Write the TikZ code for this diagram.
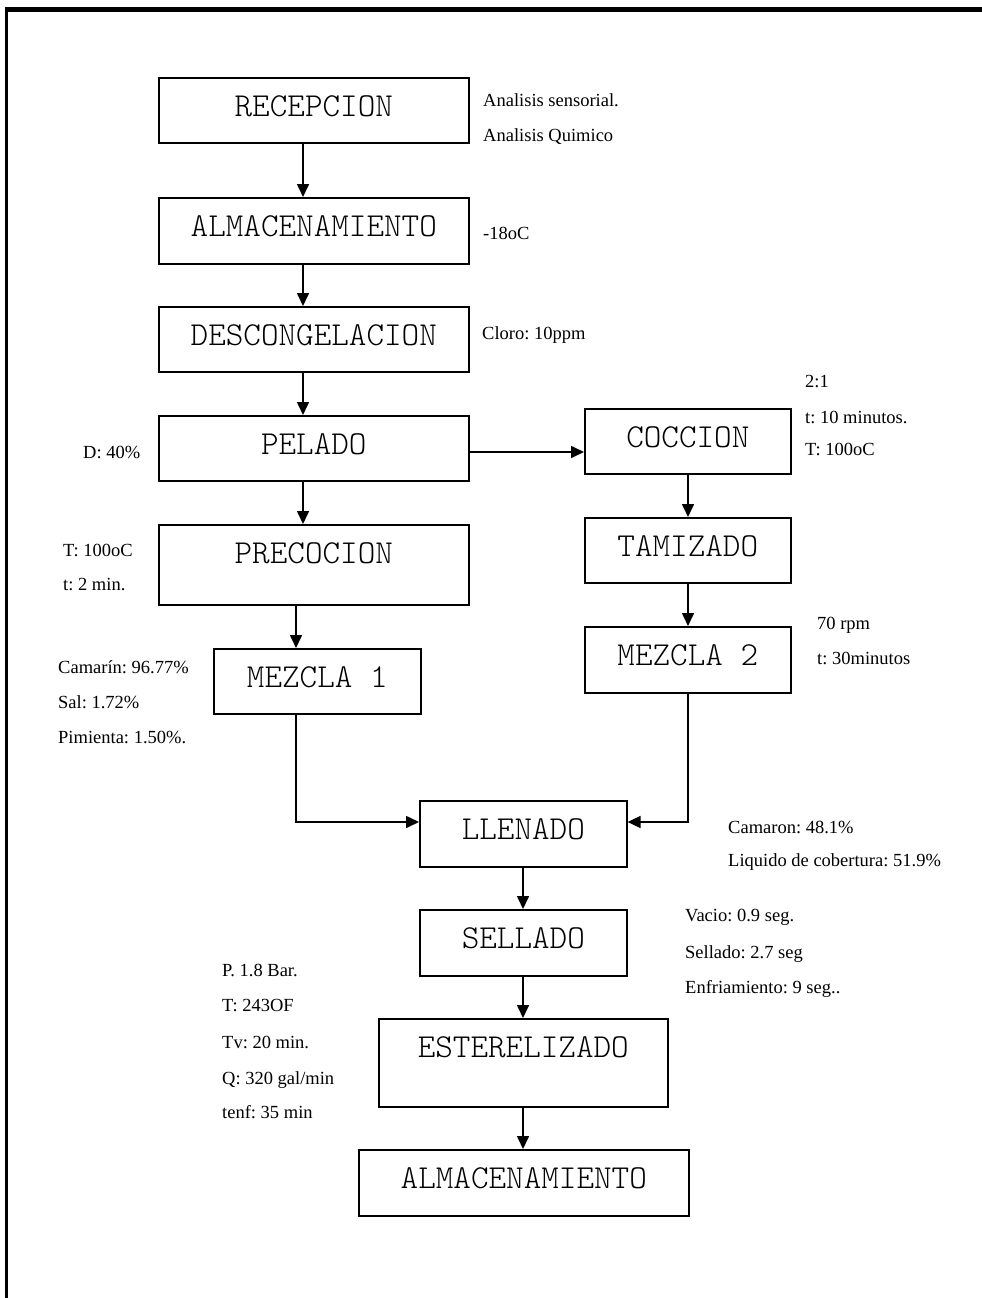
\documentclass[tikz,border=0pt]{standalone}
\usepackage{fontspec}
\setmainfont{Liberation Serif}
\newfontfamily\boxfont{Latin Modern Mono Light}
\usetikzlibrary{arrows.meta}
\frenchspacing
\tikzset{
  procbox/.style={draw, line width=1.6pt, inner sep=0pt, anchor=north west},
  boxlabel/.style={inner sep=0pt, anchor=center, font=\boxfont\fontsize{33.5}{36}\selectfont},
  ann/.style={anchor=base west, inner sep=0pt, font=\fontsize{18.5}{22}\selectfont},
  arr/.style={line width=1.6pt, -{Triangle[width=12pt,length=13pt]}},
  lin/.style={line width=1.6pt}
}
\newcommand\pbox[6]{%
  \node[procbox, minimum width=#4pt-#2pt, minimum height=#5pt-#3pt] (#1) at (#2,#3) {};
  \node[boxlabel] (#1-t) at ([yshift=-29pt]#1.north) {#6};
}
\begin{document}
\begin{tikzpicture}[x=1pt,y=-1pt]
\useasboundingbox (0,0) rectangle (982,1298);
% frame
\fill[black] (5,7) rectangle (982,12);
\fill[black] (5,7) rectangle (8,1298);

% boxes
\pbox{rec}{158}{77}{468}{142}{RECEPCION}
\pbox{alm}{158}{197}{468}{263}{ALMACENAMIENTO}
\pbox{desc}{158}{306}{468}{371}{DESCONGELACION}
\pbox{pel}{158}{415}{468}{480}{PELADO}
\pbox{prec}{158}{524}{468}{604}{PRECOCION}
\pbox{mz1}{213}{648}{420}{713}{MEZCLA 1}
\pbox{coc}{584}{408}{790}{473}{COCCION}
\pbox{tam}{584}{517}{790}{582}{TAMIZADO}
\pbox{mz2}{584}{626}{790}{692}{MEZCLA 2}
\pbox{llen}{419}{800}{626}{866}{LLENADO}
\pbox{sell}{419}{909}{626}{975}{SELLADO}
\pbox{est}{378}{1018}{667}{1106}{ESTERELIZADO}
\pbox{alm2}{358}{1149}{688}{1215}{ALMACENAMIENTO}

% guide coordinates
\coordinate (xa) at (303,0);
\coordinate (xb) at (296,0);
\coordinate (xc) at (688,0);
\coordinate (xd) at (523,0);
\coordinate (yp) at (0,452);
\coordinate (yl) at (0,822);

% connectors
\draw[arr] (rec.south -| xa) -- (alm.north -| xa);
\draw[arr] (alm.south -| xa) -- (desc.north -| xa);
\draw[arr] (desc.south -| xa) -- (pel.north -| xa);
\draw[arr] (pel.south -| xa) -- (prec.north -| xa);
\draw[arr] (prec.south -| xb) -- (mz1.north -| xb);
\draw[arr] (pel.east |- yp) -- (coc.west |- yp);
\draw[arr] (coc.south -| xc) -- (tam.north -| xc);
\draw[arr] (tam.south -| xc) -- (mz2.north -| xc);
\draw[arr] (mz1.south -| xb) -- (xb |- yl) -- (llen.west |- yl);
\draw[arr] (mz2.south -| xc) -- (xc |- yl) -- (llen.east |- yl);
\draw[arr] (llen.south -| xd) -- (sell.north -| xd);
\draw[arr] (sell.south -| xd) -- (est.north -| xd);
\draw[arr] (est.south -| xd) -- (alm2.north -| xd);

% annotations
\node[ann] (a1) at (483,106) {Analisis sensorial.};
\node[ann] (a2) at (483,141) {Analisis Quimico};
\node[ann] (a3) at (483,239) {-18oC};
\node[ann] (a4) at (482,339) {Cloro: 10ppm};
\node[ann] (a5) at (805,387) {2:1};
\node[ann] (a6) at (805,423) {t: 10 minutos.};
\node[ann] (a7) at (805,455) {T: 100oC};
\node[ann] (a8) at (83,458) {D: 40\%};
\node[ann] (a9) at (63,556) {T: 100oC};
\node[ann] (a10) at (63,590) {t: 2 min.};
\node[ann] (a11) at (58,673) {Camarín: 96.77\%};
\node[ann] (a12) at (58,708) {Sal: 1.72\%};
\node[ann] (a13) at (58,743) {Pimienta: 1.50\%.};
\node[ann] (a14) at (817,629) {70 rpm};
\node[ann] (a15) at (817,664) {t: 30minutos};
\node[ann] (a16) at (728,833) {Camaron: 48.1\%};
\node[ann] (a17) at (728,866) {Liquido de cobertura: 51.9\%};
\node[ann] (a18) at (685,921) {Vacio: 0.9 seg.};
\node[ann] (a19) at (685,958) {Sellado: 2.7 seg};
\node[ann] (a20) at (685,993) {Enfriamiento: 9 seg..};
\node[ann] (a21) at (222,976) {P. 1.8 Bar.};
\node[ann] (a22) at (222,1011) {T: 243OF};
\node[ann] (a23) at (222,1048) {Tv: 20 min.};
\node[ann] (a24) at (222,1084) {Q: 320 gal/min};
\node[ann] (a25) at (222,1118) {tenf: 35 min};
\end{tikzpicture}
\end{document}
